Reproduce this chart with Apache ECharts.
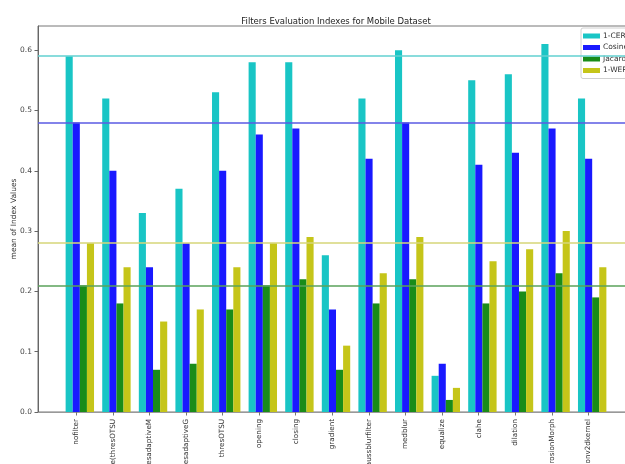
<!DOCTYPE html>
<html>
<head>
<meta charset="utf-8">
<script src="https://cdn.jsdelivr.net/npm/echarts@6/dist/echarts.min.js"></script>
<style>
  html, body { margin: 0; padding: 0; background: #fff; }
  #chart { width: 625px; height: 464px; }
</style>
</head>
<body>
<div id="chart"></div>
<script>
// Filter names (one group of bars per filter)
const filters = [
  'nofilter', 'e(thresOTSU', 'thresadaptiveM', 'thresadaptiveG', 'thresOTSU',
  'opening', 'closing', 'gradient', 'gaussblurfilter', 'medblur',
  'equalize', 'clahe', 'dilation', 'erosionMorph', 'conv2dkernel'
];

// Mean index values per filter
const cer     = [0.59, 0.52, 0.33, 0.37, 0.53, 0.58, 0.58, 0.26, 0.52, 0.60, 0.06, 0.55, 0.56, 0.61, 0.52];
const cosine  = [0.48, 0.40, 0.24, 0.28, 0.40, 0.46, 0.47, 0.17, 0.42, 0.48, 0.08, 0.41, 0.43, 0.47, 0.42];
const jacard  = [0.21, 0.18, 0.07, 0.08, 0.17, 0.21, 0.22, 0.07, 0.18, 0.22, 0.02, 0.18, 0.20, 0.23, 0.19];
const wer     = [0.28, 0.24, 0.15, 0.17, 0.24, 0.28, 0.29, 0.11, 0.23, 0.29, 0.04, 0.25, 0.27, 0.30, 0.24];

const seriesNames = ['1-CER', 'Cosine', 'Jacard', '1-WER'];
const yTicks = [0.0, 0.1, 0.2, 0.3, 0.4, 0.5, 0.6];

const barColors  = ['#19c5c5', '#1919ff', '#198c19', '#c5c519'];
const lineColors = ['#62d0d0', '#5a5ae3', '#5aa25a', '#d6d678'];
const FONT = 'DejaVu Sans';

const values = [cer, cosine, jacard, wer];
const idx = filters.map((_, i) => i);
// tick marks sit under the second bar of each group
const tickPos = idx.map(i => i - 0.1);

const chart = echarts.init(document.getElementById('chart'), null, { renderer: 'canvas' });

const barSeries = values.map((vals, s) => ({
  name: seriesNames[s],
  type: 'bar',
  data: vals.map((v, i) => [i, v]),
  barWidth: 7.1,
  barGap: '0%',
  itemStyle: { color: barColors[s] },
  silent: true
}));

// reference lines at the unfiltered score of each index
const baseLines = {
  name: 'baseline',
  type: 'line',
  data: [],
  z: 10,
  markLine: {
    silent: true,
    symbol: 'none',
    label: { show: false },
    animation: false,
    data: values.map((vals, s) => ({
      yAxis: vals[0],
      lineStyle: { color: lineColors[s], width: 1.5, type: 'solid' }
    }))
  }
};

chart.setOption({
  animation: false,
  backgroundColor: '#fff',
  textStyle: { fontFamily: FONT },
  title: {
    text: 'Filters Evaluation Indexes for Mobile Dataset',
    left: 331,
    top: 12,
    textAlign: 'center',
    textStyle: { fontFamily: FONT, fontSize: 8.5, fontWeight: 'normal', color: '#222' }
  },
  legend: {
    data: seriesNames,
    orient: 'vertical',
    left: 581,
    top: 28,
    itemWidth: 17,
    itemHeight: 5,
    itemGap: 3.5,
    padding: [4, 3, 4, 2],
    backgroundColor: '#fff',
    borderColor: '#d0d0d0',
    borderWidth: 1,
    borderRadius: 2,
    icon: 'rect',
    textStyle: { fontFamily: FONT, fontSize: 7.5, color: '#333', padding: [0, 0, 0, -2] }
  },
  grid: {
    left: 38,
    top: 26,
    width: 597,
    height: 386,
    show: true,
    borderColor: '#777',
    borderWidth: 1,
    containLabel: false,
    outerBoundsMode: 'none'
  },
  xAxis: {
    type: 'value',
    min: -1.143,
    max: 15.17,
    splitLine: { show: false },
    axisLine: { show: true, onZero: false, lineStyle: { color: '#999', width: 1 } },
    axisTick: {
      show: true,
      customValues: tickPos,
      length: 3.5,
      lineStyle: { color: '#777' }
    },
    axisLabel: {
      customValues: tickPos,
      rotate: 90,
      margin: 7,
      fontFamily: FONT,
      fontSize: 7.2,
      color: '#333',
      formatter: v => filters[Math.round(v + 0.1)] || ''
    }
  },
  yAxis: {
    type: 'value',
    min: 0,
    max: 0.64,
    name: 'mean of Index Values',
    nameLocation: 'middle',
    nameGap: 20,
    nameMoveOverlap: false,
    nameTextStyle: { fontFamily: FONT, fontSize: 7.5, color: '#333' },
    splitLine: { show: false },
    axisLine: { show: true, onZero: false, lineStyle: { color: '#666', width: 1 } },
    axisTick: { show: true, customValues: yTicks, length: 3.5, lineStyle: { color: '#666' } },
    axisLabel: {
      customValues: yTicks,
      margin: 6,
      fontFamily: FONT,
      fontSize: 7.5,
      color: '#444',
      formatter: v => v.toFixed(1)
    }
  },
  series: [...barSeries, baseLines]
});
</script>
</body>
</html>
